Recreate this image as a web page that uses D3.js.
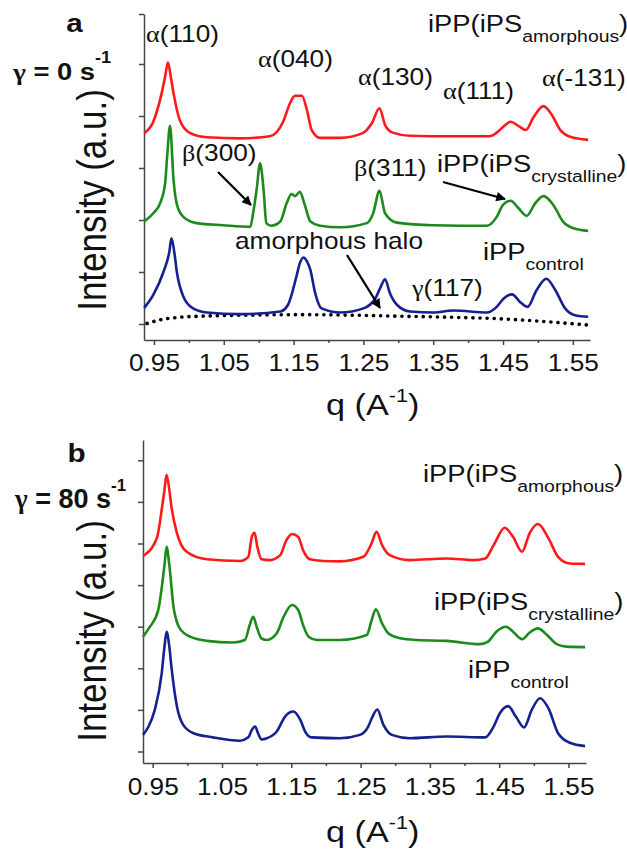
<!DOCTYPE html>
<html>
<head>
<meta charset="utf-8">
<script src="https://cdn.jsdelivr.net/npm/d3@7"></script>
<style>
  html, body { margin: 0; padding: 0; background: #fff; }
  svg { display: block; }
  text { font-family: "Liberation Sans", Arial, sans-serif; fill: #111; }
</style>
</head>
<body>
<svg id="chart" width="627" height="852"></svg>
<script>
// ---------- axis ticks ----------
const xMajorTicks = [0.95, 1.05, 1.15, 1.25, 1.35, 1.45, 1.55];
const xTickLabels = ["0.95", "1.05", "1.15", "1.25", "1.35", "1.45", "1.55"];
const xMinorTicks = [1.00, 1.10, 1.20, 1.30, 1.40, 1.50];

// ---------- panel a: gamma = 0 s^-1 ----------
const aAmorphousQ = [0.936,0.949,0.961,0.966,0.970,0.974,0.978,0.987,1.002,1.026,1.073,1.116,1.135,1.145,1.152,1.162,1.169,1.176,1.188,1.217,1.249,1.262,1.273,1.281,1.292,1.317,1.374,1.431,1.441,1.450,1.461,1.472,1.483,1.493,1.508,1.520,1.532,1.546,1.572];
const aAmorphousI = [3.67,3.89,4.44,4.76,5.03,4.76,4.44,3.92,3.67,3.59,3.57,3.61,3.89,4.25,4.39,4.39,4.12,3.73,3.58,3.58,3.67,3.86,4.15,3.83,3.68,3.62,3.61,3.61,3.68,3.79,3.89,3.81,3.73,3.96,4.19,4.02,3.73,3.60,3.54];

const aCrystallineQ = [0.936,0.949,0.959,0.966,0.969,0.973,0.978,0.983,0.992,1.011,1.049,1.088,1.092,1.097,1.102,1.107,1.111,1.118,1.131,1.140,1.147,1.152,1.159,1.166,1.174,1.188,1.217,1.255,1.264,1.273,1.281,1.298,1.350,1.427,1.441,1.450,1.461,1.472,1.484,1.496,1.508,1.522,1.536,1.551,1.572];
const aCrystallineI = [1.97,2.13,2.33,2.71,3.25,3.81,2.77,2.29,2.06,1.94,1.90,1.87,2.13,2.58,3.09,2.58,1.94,1.89,1.97,2.32,2.50,2.46,2.54,2.29,1.97,1.89,1.86,1.94,2.13,2.56,2.13,1.95,1.90,1.89,2.06,2.29,2.37,2.23,2.08,2.32,2.46,2.29,1.97,1.84,1.79];

const aControlQ = [0.936,0.949,0.963,0.972,0.975,0.979,0.983,0.992,1.006,1.026,1.073,1.131,1.142,1.154,1.159,1.164,1.169,1.174,1.181,1.190,1.217,1.250,1.267,1.275,1.281,1.288,1.298,1.317,1.350,1.379,1.427,1.441,1.451,1.463,1.474,1.485,1.498,1.512,1.525,1.539,1.553,1.572];
const aControlI = [0.31,0.56,0.98,1.39,1.65,1.39,0.98,0.53,0.30,0.22,0.19,0.24,0.37,0.91,1.17,1.28,1.21,1.04,0.59,0.30,0.22,0.30,0.49,0.72,0.86,0.59,0.37,0.24,0.22,0.26,0.22,0.33,0.49,0.57,0.43,0.33,0.65,0.87,0.65,0.30,0.17,0.14];

const aHaloQ = [0.940,0.959,0.987,1.016,1.088,1.159,1.231,1.302,1.374,1.446,1.517,1.572];
const aHaloI = [0.01,0.08,0.13,0.15,0.17,0.18,0.17,0.15,0.13,0.10,0.04,-0.02];

// ---------- panel b: gamma = 80 s^-1 ----------
const bAmorphousQ = [0.936,0.956,0.963,0.967,0.970,0.974,0.977,0.985,0.999,1.028,1.076,1.088,1.093,1.097,1.101,1.107,1.119,1.134,1.143,1.151,1.160,1.167,1.177,1.196,1.220,1.254,1.266,1.273,1.281,1.292,1.321,1.374,1.413,1.430,1.442,1.458,1.470,1.483,1.494,1.506,1.521,1.535,1.552,1.574];
const bAmorphousI = [4.70,5.13,5.81,6.29,6.65,6.29,5.89,5.25,4.80,4.62,4.58,4.68,5.16,5.26,4.92,4.62,4.60,4.72,5.08,5.23,5.16,4.84,4.62,4.58,4.57,4.68,5.01,5.28,4.96,4.72,4.60,4.64,4.60,4.64,4.96,5.38,5.16,4.80,5.25,5.47,5.13,4.68,4.52,4.51];

const bCrystallineQ = [0.936,0.946,0.958,0.967,0.970,0.974,0.980,0.989,1.004,1.028,1.066,1.083,1.090,1.095,1.100,1.107,1.115,1.129,1.139,1.151,1.160,1.167,1.175,1.187,1.220,1.259,1.266,1.272,1.281,1.290,1.307,1.331,1.374,1.422,1.434,1.446,1.460,1.470,1.483,1.494,1.506,1.519,1.533,1.547,1.574];
const bCrystallineI = [2.76,3.00,3.40,4.48,4.92,4.48,3.48,2.96,2.76,2.66,2.62,2.68,3.04,3.24,3.00,2.72,2.68,2.84,3.24,3.52,3.40,3.04,2.76,2.68,2.68,2.80,3.16,3.42,3.08,2.84,2.72,2.68,2.66,2.58,2.64,2.88,3.00,2.88,2.70,2.86,2.96,2.80,2.58,2.52,2.51];

const bControlQ = [0.936,0.944,0.953,0.963,0.967,0.970,0.974,0.977,0.985,0.994,1.009,1.037,1.076,1.088,1.093,1.098,1.102,1.107,1.115,1.129,1.141,1.153,1.163,1.170,1.179,1.220,1.249,1.261,1.267,1.274,1.283,1.295,1.321,1.374,1.430,1.442,1.451,1.463,1.474,1.486,1.497,1.509,1.521,1.535,1.552,1.574];
const bControlI = [0.40,0.60,1.00,1.88,2.52,2.88,2.52,2.04,1.08,0.64,0.44,0.34,0.26,0.34,0.52,0.60,0.44,0.29,0.32,0.48,0.84,0.96,0.76,0.48,0.34,0.32,0.40,0.60,0.83,1.01,0.64,0.40,0.32,0.36,0.34,0.60,0.92,1.09,0.84,0.58,1.00,1.28,1.04,0.44,0.21,0.13];

// ---------- styling ----------
const COLORS = { amorphous: "#ff1a1a", crystalline: "#1c8a1c", control: "#15218f" };
const AXIS = "#454545";
const SX = 1.14;   // horizontal text stretch
const SERIF = "'Liberation Serif','Times New Roman',serif";

const svg = d3.select("#chart");

const defs = svg.append("defs");
defs.append("marker")
  .attr("id", "arrowhead")
  .attr("viewBox", "0 0 10 10")
  .attr("refX", 9).attr("refY", 5)
  .attr("markerWidth", 5.2).attr("markerHeight", 4.2)
  .attr("markerUnits", "strokeWidth")
  .attr("orient", "auto")
  .append("path").attr("d", "M0,0 L10,5 L0,10 z").attr("fill", "#000");

const zip = (q, I) => q.map((v, i) => [v, I[i]]);

// text with optional tspans (subscripts / superscripts / Greek letters)
function label(g, x, y, parts, opt = {}) {
  const t = g.append("text")
    .attr("transform", `translate(${x},${y}) scale(${opt.sx ?? SX},1)${opt.rotate ? " rotate(" + opt.rotate + ")" : ""}`)
    .attr("font-size", opt.size || 23)
    .attr("text-anchor", opt.anchor || "start");
  if (opt.weight) t.attr("font-weight", opt.weight);
  parts.forEach(p => {
    const s = t.append("tspan").text(p.t);
    if (p.size) s.attr("font-size", p.size);
    if (p.dy) s.attr("dy", p.dy);
    if (p.serif) s.attr("font-family", SERIF);
  });
  return t;
}

function arrow(g, x1, y1, x2, y2) {
  g.append("line")
    .attr("x1", x1).attr("y1", y1).attr("x2", x2).attr("y2", y2)
    .attr("stroke", "#000").attr("stroke-width", 2.3)
    .attr("marker-end", "url(#arrowhead)");
}

function sampleLabel(g, x, y, subscript, inner) {
  const parts = inner
    ? [{ t: "iPP(iPS" }, { t: subscript, size: 17, dy: 10 }, { t: ")", size: 24, dy: -10 }]
    : [{ t: "iPP" }, { t: subscript, size: 17, dy: 10 }];
  label(g, x, y, parts, { size: 24 });
}

function drawPanel(p) {
  const g = svg.append("g");
  const x = d3.scaleLinear().domain(p.xDomain).range(p.xRange);
  const y = d3.scaleLinear().domain(p.yDomain).range(p.yRange);
  const baseY = p.yRange[0];

  // minor x ticks
  g.append("g")
    .attr("transform", `translate(0,${baseY})`)
    .call(d3.axisBottom(x).tickValues(xMinorTicks).tickSize(3).tickSizeOuter(0).tickFormat(""))
    .call(s => s.select(".domain").remove());
  // major x ticks + labels
  const xa = g.append("g")
    .attr("transform", `translate(0,${baseY})`)
    .call(d3.axisBottom(x).tickValues(xMajorTicks).tickSize(5).tickSizeOuter(0)
      .tickFormat((d, i) => xTickLabels[i]));
  xa.selectAll("text")
    .attr("y", null).attr("dy", null)
    .attr("transform", `translate(0,${p.tickLabelOffset}) scale(${SX},1)`)
    .attr("font-size", 23).attr("fill", "#111")
    .attr("font-family", "'Liberation Sans', Arial, sans-serif");
  xa.attr("font-size", null).attr("font-family", null);

  // y axis
  g.append("g")
    .attr("transform", `translate(${p.xRange[0]},0)`)
    .call(d3.axisLeft(y).tickValues(p.yTicks).tickSize(5).tickSizeOuter(0).tickFormat(""));

  g.selectAll(".domain, .tick line").attr("stroke", AXIS).attr("stroke-width", 1.5);

  // curves
  const line = d3.line().x(d => x(d[0])).y(d => y(d[1])).curve(d3.curveMonotoneX);
  if (p.halo) {
    g.append("path").datum(p.halo).attr("d", line)
      .attr("fill", "none").attr("stroke", "#000").attr("stroke-width", 3.6)
      .attr("stroke-linecap", "round").attr("stroke-dasharray", "0.1 7");
  }
  p.series.forEach(s => {
    g.append("path").datum(s.data).attr("d", line)
      .attr("fill", "none").attr("stroke", s.color)
      .attr("stroke-width", 2.6).attr("stroke-linejoin", "round");
  });
  return g;
}

// ---------- panel a ----------
const gA = drawPanel({
  xDomain: [0.9357, 1.5746], xRange: [144, 590],
  yDomain: [-0.3077, 5.9615], yRange: [340, 14],
  yTicks: [0, 1, 2, 3, 4, 5, 5.9615],
  tickLabelOffset: 31,
  halo: zip(aHaloQ, aHaloI),
  series: [
    { data: zip(aAmorphousQ, aAmorphousI), color: COLORS.amorphous },
    { data: zip(aCrystallineQ, aCrystallineI), color: COLORS.crystalline },
    { data: zip(aControlQ, aControlI), color: COLORS.control }
  ]
});

// ---------- panel b ----------
const gB = drawPanel({
  xDomain: [0.936, 1.5753], xRange: [143, 586],
  yDomain: [-0.2764, 7.488], yRange: [763, 440],
  yTicks: [0, 1, 2, 3, 4, 5, 6, 7],
  tickLabelOffset: 32,
  series: [
    { data: zip(bAmorphousQ, bAmorphousI), color: COLORS.amorphous },
    { data: zip(bCrystallineQ, bCrystallineI), color: COLORS.crystalline },
    { data: zip(bControlQ, bControlI), color: COLORS.control }
  ]
});

// ---------- axis titles ----------
[[gA, 415, 200], [gB, 842, 631]].forEach(([g, qy, iy]) => {
  label(g, 326, qy, [{ t: "q (A" }, { t: "-1", size: 19, dy: -13 }, { t: ")", size: 30, dy: 13 }], { size: 30 });
  label(g, 106, iy, [{ t: "Intensity (a.u.)" }], { size: 35, anchor: "middle", rotate: -90 });
});

// ---------- panel a annotations ----------
label(gA, 74.5, 32, [{ t: "a" }], { size: 26, weight: "bold", anchor: "middle" });
label(gA, 13, 80, [{ t: "γ", serif: true }, { t: " = 0 s" }, { t: "-1", size: 16, dy: -17 }], { size: 24, weight: "bold" });

label(gA, 146, 41.5, [{ t: "α", serif: true }, { t: "(110)" }]);
label(gA, 258, 66.5, [{ t: "α", serif: true }, { t: "(040)" }]);
label(gA, 358, 85, [{ t: "α", serif: true }, { t: "(130)" }]);
label(gA, 443, 99, [{ t: "α", serif: true }, { t: "(111)" }]);
label(gA, 542, 86, [{ t: "α", serif: true }, { t: "(-131)" }]);
label(gA, 182, 161, [{ t: "β", serif: true }, { t: "(300)" }]);
label(gA, 354, 176, [{ t: "β", serif: true }, { t: "(311)" }]);
label(gA, 412, 296, [{ t: "γ", serif: true }, { t: "(117)" }]);
label(gA, 235, 249, [{ t: "amorphous halo" }]);

sampleLabel(gA, 428, 32, "amorphous", true);
sampleLabel(gA, 437, 171.5, "crystalline", true);
sampleLabel(gA, 483, 260, "control", false);

arrow(gA, 218, 172, 251, 205);
arrow(gA, 443, 182, 505, 199);
arrow(gA, 347, 255, 380, 308);

// ---------- panel b annotations ----------
label(gB, 76.5, 461.5, [{ t: "b" }], { size: 26, weight: "bold", anchor: "middle" });
label(gB, 15, 508, [{ t: "γ", serif: true }, { t: " = 80 s" }, { t: "-1", size: 17, dy: -17 }], { size: 27, weight: "bold", sx: 1.0 });

sampleLabel(gB, 423, 481.5, "amorphous", true);
sampleLabel(gB, 434, 610, "crystalline", true);
sampleLabel(gB, 468, 678, "control", false);
</script>
</body>
</html>
